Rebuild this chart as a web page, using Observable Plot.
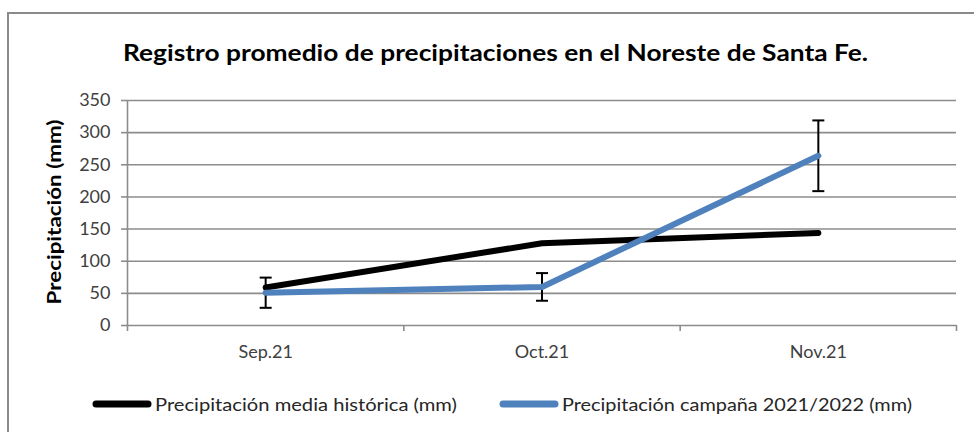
<!DOCTYPE html>
<html><head><meta charset="utf-8">
<script src="https://cdn.jsdelivr.net/npm/d3@7"></script>
<script src="https://cdn.jsdelivr.net/npm/@observablehq/plot@0.6"></script>
<style>
html,body{margin:0;padding:0;background:#fff;overflow:hidden;}
#wrap{position:relative;width:974px;height:432px;overflow:hidden;}
#frame{position:absolute;left:7px;top:12px;width:1000px;height:500px;border:2px solid #8a8a8a;}
#chart{position:absolute;left:0;top:0;}
</style></head><body>
<div id="wrap"><div id="frame"></div><div id="chart"></div></div>
<script>
const title = "Registro promedio de precipitaciones en el Noreste de Santa Fe.";
const yLabel = "Precipitación (mm)";
const categories = ["Sep.21", "Oct.21", "Nov.21"];
const historica = [59, 128, 144];
const campana = [51, 60, 264];
const campanaError = [23.5, 21.5, 55];
const yTicks = [0, 50, 100, 150, 200, 250, 300, 350];
const seriesNames = ["Precipitación media histórica (mm)", "Precipitación campaña 2021/2022 (mm)"];
const seriesColors = ["#000000", "#4f81bd"];

const rowsH = categories.map((c, i) => ({i, cat: c, value: historica[i]}));
const rowsC = categories.map((c, i) => ({i, cat: c, value: campana[i], lo: campana[i] - campanaError[i], hi: campana[i] + campanaError[i]}));
const bounds = d3.range(categories.length + 1).map(i => i - 0.5);

const capSymbol = {
  draw(context, size) {
    const r = Math.sqrt(size / Math.PI);
    context.moveTo(-r, 0);
    context.lineTo(r, 0);
  }
};

const grid = "#8c8c8c";
const plot = Plot.plot({
  width: 974, height: 432,
  marginLeft: 127, marginRight: 18, marginTop: 100, marginBottom: 107,
  style: {fontFamily: "Lato", background: "transparent", color: "#404040", overflow: "visible"},
  x: {type: "linear", domain: [-0.5, categories.length - 0.5]},
  y: {domain: [0, 350]},
  marks: [
    Plot.gridY(yTicks, {stroke: grid, strokeOpacity: 1, strokeWidth: 1.6}),
    Plot.axisY(yTicks, {tickSize: 6, tickPadding: 11, stroke: grid, strokeOpacity: 1, strokeWidth: 1.6, fontSize: 18, fill: "#404040", label: null}),
    Plot.ruleX([-0.5], {stroke: grid, strokeWidth: 1.6}),
    Plot.axisX(bounds, {tickSize: 6, tickFormat: () => "", stroke: grid, strokeOpacity: 1, strokeWidth: 1.6, label: null}),
    Plot.axisX(d3.range(categories.length), {tickSize: 0, tickPadding: 20, tickFormat: i => categories[i], fontSize: 18, fill: "#404040", label: null}),
    Plot.ruleX(rowsC, {x: "i", y1: "lo", y2: "hi", stroke: "#000", strokeWidth: 2}),
    Plot.dot(rowsC, {x: "i", y: "hi", symbol: capSymbol, r: 6, stroke: "#000", strokeWidth: 2}),
    Plot.dot(rowsC, {x: "i", y: "lo", symbol: capSymbol, r: 6, stroke: "#000", strokeWidth: 2}),
    Plot.line(rowsH, {x: "i", y: "value", stroke: seriesColors[0], strokeWidth: 6, strokeLinecap: "round", strokeLinejoin: "round"}),
    Plot.line(rowsC, {x: "i", y: "value", stroke: seriesColors[1], strokeWidth: 6, strokeLinecap: "round", strokeLinejoin: "round"})
  ]
});

const svg = d3.select(plot);
svg.append("text")
  .attr("x", 123).attr("y", 61)
  .attr("text-anchor", "start")
  .attr("font-family", "Lato").attr("font-weight", "bold").attr("font-size", 23)
  .attr("fill", "#000")
  .attr("textLength", 745).attr("lengthAdjust", "spacingAndGlyphs")
  .text(title);

svg.append("text")
  .attr("transform", "translate(61,212) rotate(-90)")
  .attr("text-anchor", "middle")
  .attr("font-family", "Lato").attr("font-weight", "bold").attr("font-size", 18)
  .attr("fill", "#000")
  .attr("textLength", 185).attr("lengthAdjust", "spacingAndGlyphs")
  .text(yLabel);

const legendX = [96, 503];
const legendW = [302, 350];
const lg = svg.append("g");
seriesNames.forEach((name, k) => {
  lg.append("line")
    .attr("x1", legendX[k]).attr("x2", legendX[k] + 52)
    .attr("y1", 404).attr("y2", 404)
    .attr("stroke", seriesColors[k]).attr("stroke-width", 7).attr("stroke-linecap", "round");
  lg.append("text")
    .attr("x", legendX[k] + 59).attr("y", 411)
    .attr("text-anchor", "start")
    .attr("font-family", "Lato").attr("font-size", 18).attr("fill", "#262626")
    .attr("textLength", legendW[k]).attr("lengthAdjust", "spacingAndGlyphs")
    .text(name);
});

document.getElementById("chart").append(plot);
</script>
</body></html>
